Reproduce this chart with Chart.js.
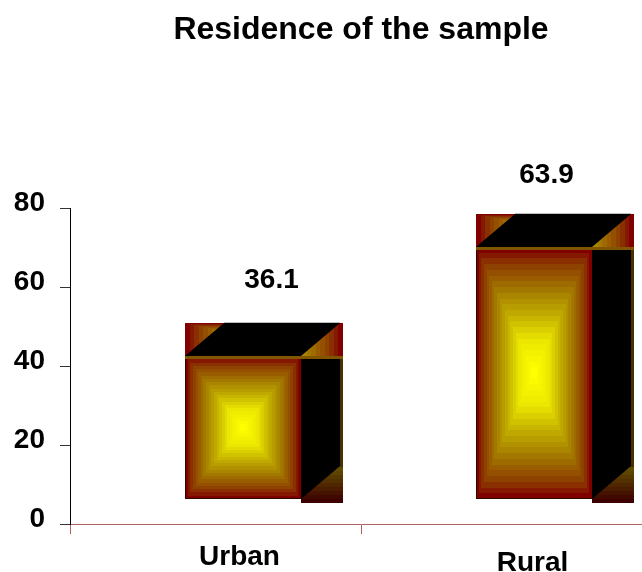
<!DOCTYPE html>
<html>
<head>
<meta charset="utf-8">
<title>Residence of the sample</title>
<script src="https://cdn.jsdelivr.net/npm/chart.js@4"></script>
<style>
  html, body { margin: 0; padding: 0; background: #fff; overflow: hidden; }
  #box { width: 642px; height: 572px; overflow: hidden; }
  canvas { display: block; }
</style>
</head>
<body>
<div id="box"><canvas id="residenceChart" width="660" height="572"></canvas></div>
<script>
const categories = ["Urban", "Rural"];
const percentages = [36.1, 63.9];
const valueTicks = [0, 20, 40, 60, 80];
const chartTitle = "Residence of the sample";

const FONT = '"Liberation Sans", Arial, sans-serif';

// the old 3D look: the front face floats above the axis and is pushed right
const FLOOR_LIFT = 25;
const FACE_SHIFT = 27.5;
const DEPTH_X = 39;
const DEPTH_Y = 33;

// dark red rim to yellow middle
const faceStops = [
  [0, [128, 0, 0]],
  [0.12, [140, 60, 0]],
  [0.35, [165, 125, 0]],
  [0.55, [195, 175, 0]],
  [0.75, [235, 230, 0]],
  [1, [255, 255, 0]],
];

function rgb(c) {
  return `rgb(${c.map(Math.round).join(",")})`;
}

function mix(a, b, t) {
  return a.map((v, i) => v + (b[i] - v) * t);
}

function faceColor(t) {
  for (let i = 1; i < faceStops.length; i++) {
    if (t <= faceStops[i][0]) {
      const from = faceStops[i - 1];
      const to = faceStops[i];
      return mix(from[1], to[1], (t - from[0]) / (to[0] - from[0]));
    }
  }
  return faceStops[faceStops.length - 1][1];
}

// banded rectangular gradient, rings get smaller towards the middle
function bandedRect(ctx, x, y, w, h, steps) {
  for (let i = 0; i < steps; i++) {
    const dx = Math.round((i / steps) * (w / 2));
    const dy = Math.round((i / steps) * (h / 2));
    ctx.fillStyle = rgb(faceColor(i / (steps - 1)));
    ctx.fillRect(x + dx, y + dy, w - 2 * dx, h - 2 * dy);
  }
}

function polygon(ctx, points, color) {
  ctx.fillStyle = color;
  ctx.beginPath();
  points.forEach((p, i) => (i ? ctx.lineTo(p[0], p[1]) : ctx.moveTo(p[0], p[1])));
  ctx.closePath();
  ctx.fill();
}

// a gradient box limited to one region, used for the corners behind the lid
function clippedBands(ctx, region, box) {
  ctx.save();
  ctx.beginPath();
  ctx.rect(region[0], region[1], region[2], region[3]);
  ctx.clip();
  bandedRect(ctx, box[0], box[1], box[2], box[3], 22);
  ctx.restore();
}

function drawBar(ctx, bar) {
  const left = Math.round(bar.x - bar.width / 2 + FACE_SHIFT);
  const right = left + Math.round(bar.width);
  const top = Math.round(bar.y - FLOOR_LIFT);
  const bottom = Math.round(bar.base - FLOOR_LIFT);

  // front
  bandedRect(ctx, left, top, right - left, bottom - top, 22);
  ctx.fillStyle = "#2a0800";
  ctx.fillRect(left, top, 1, bottom - top);
  ctx.fillRect(left, bottom - 1, right - left, 1);

  // side
  const sideTop = top + 3;
  const sideRight = right + DEPTH_X + 3;
  const sideBottom = bottom + 4;
  ctx.fillStyle = "#4a3000";
  ctx.fillRect(right, sideTop, sideRight - right, sideBottom - sideTop);
  const band = DEPTH_Y + 3;
  for (let i = 0; i < 9; i++) {
    const h = Math.round((band * (9 - i)) / 9);
    ctx.fillStyle = rgb(mix([96, 76, 0], [60, 0, 0], i / 8));
    ctx.fillRect(right, sideBottom - h, sideRight - right, h);
  }
  polygon(ctx, [[right, sideTop], [right + DEPTH_X, sideTop], [right + DEPTH_X, bottom - DEPTH_Y], [right, bottom]], "#000");

  // top: the two corners show behind the black lid, with a brown strip under it
  const topHigh = top - DEPTH_Y;
  const mid = Math.round((left + sideRight) / 2);
  clippedBands(ctx, [left, topHigh, mid - left, DEPTH_Y + 3], [left, topHigh, 200, 46]);
  clippedBands(ctx, [mid, topHigh, sideRight - mid, DEPTH_Y + 3], [sideRight - 200, topHigh, 200, 46]);
  ctx.fillStyle = "rgb(130,85,0)";
  ctx.fillRect(left, top, sideRight - left, 3);
  polygon(ctx, [[left, top], [left + DEPTH_X, topHigh], [right + DEPTH_X, topHigh], [right, top]], "#000");
  ctx.fillStyle = "#bdbdbd";
  ctx.fillRect(left + DEPTH_X, topHigh - 1, right - left, 1);
}

// small nudges of the text away from where the library would put it
const valueLabelShift = [[56, -76], [40, -71]];
const categoryLabelShift = [[24, 33], [26, 39]];

const bars3d = {
  id: "bars3d",
  afterDatasetsDraw(chart) {
    const ctx = chart.ctx;
    const x = chart.scales.x;
    const meta = chart.getDatasetMeta(0);
    ctx.save();
    meta.data.forEach((bar) => drawBar(ctx, bar));

    ctx.fillStyle = "#000";
    ctx.font = `bold 28px ${FONT}`;
    ctx.textAlign = "center";
    ctx.textBaseline = "middle";
    meta.data.forEach((bar, i) => {
      const label = percentages[i].toFixed(1);
      ctx.fillText(label, bar.x + valueLabelShift[i][0], bar.y - FLOOR_LIFT + valueLabelShift[i][1]);
      ctx.fillText(categories[i], x.getPixelForTick(i) + categoryLabelShift[i][0], x.top + categoryLabelShift[i][1]);
    });
    ctx.restore();
  },
};

new Chart(document.getElementById("residenceChart").getContext("2d"), {
  type: "bar",
  data: {
    labels: categories,
    datasets: [
      {
        label: "Residence",
        data: percentages,
        backgroundColor: "rgba(0,0,0,0)",
        barPercentage: 0.4,
        categoryPercentage: 1,
      },
    ],
  },
  options: {
    responsive: false,
    animation: false,
    layout: { padding: { right: 8 } },
    plugins: {
      legend: { display: false },
      tooltip: { enabled: false },
      title: {
        display: true,
        text: chartTitle,
        fullSize: false,
        color: "#000",
        font: { family: FONT, size: 32, weight: "bold" },
        padding: { top: 11, bottom: 158.6 },
      },
    },
    scales: {
      x: {
        afterFit: (scale) => { scale.height = 48; },
        border: { color: "#b06060", width: 1 },
        grid: { drawOnChartArea: false, color: "#b06060", tickLength: 10 },
        ticks: { display: false },
      },
      y: {
        min: valueTicks[0],
        max: valueTicks[valueTicks.length - 1],
        afterFit: (scale) => { scale.width = 70; },
        afterBuildTicks: (scale) => { scale.ticks = valueTicks.map((v) => ({ value: v })); },
        border: { color: "#000", width: 1 },
        grid: { drawOnChartArea: false, color: "#333", tickLength: 10 },
        ticks: {
          color: "#000",
          font: { family: FONT, size: 28, weight: "bold" },
          padding: 15,
          labelOffset: -5,
        },
      },
    },
  },
  plugins: [bars3d],
});
</script>
</body>
</html>
